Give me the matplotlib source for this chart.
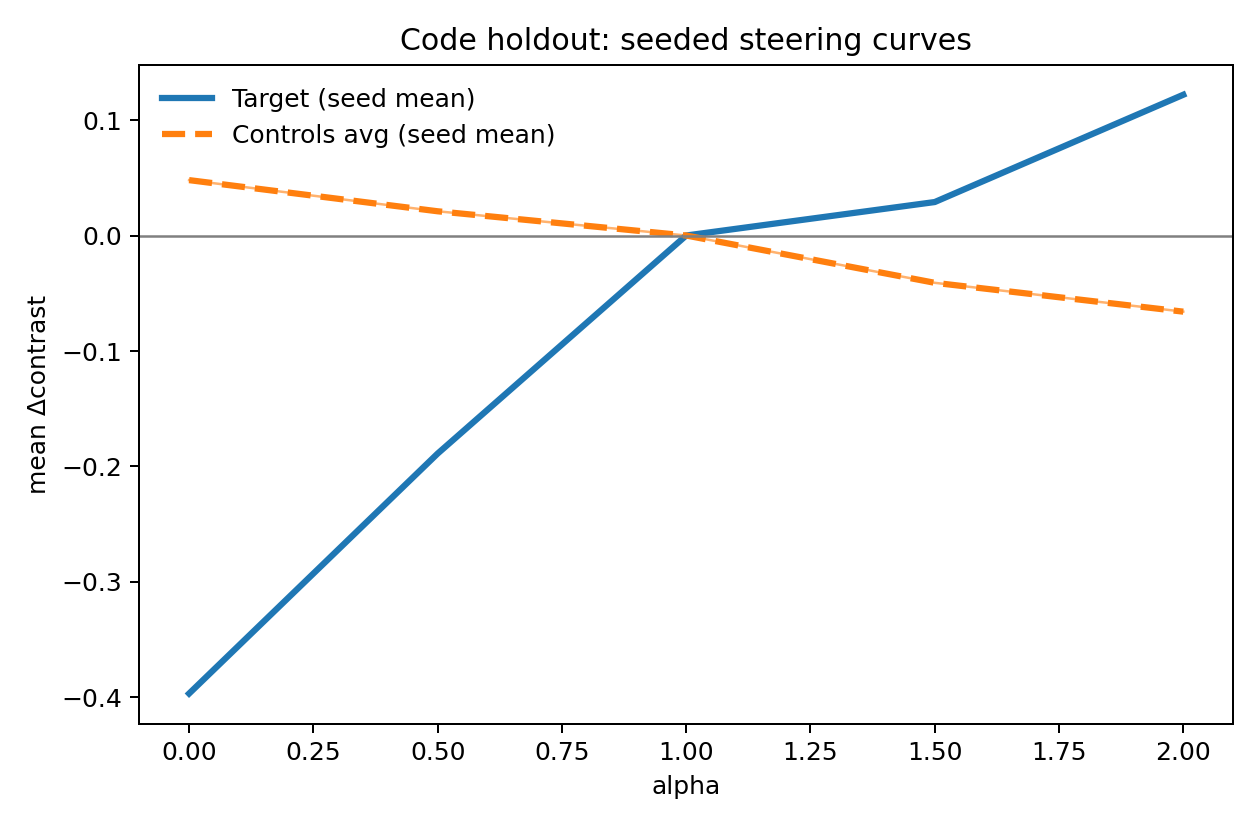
import numpy as np
import matplotlib
matplotlib.use("Agg")
import matplotlib.pyplot as plt

alphas = [0.0, 0.5, 1.0, 1.5, 2.0]
target_mean = [-0.397, -0.189, 0.0, 0.029, 0.122]
controls_mean = [0.048, 0.021, 0.0, -0.041, -0.066]

fig, ax = plt.subplots(figsize=(7, 4.59), dpi=180)

# faint per-seed trace underneath
ax.plot(alphas, target_mean, color="#1f77b4", linewidth=1, alpha=0.35)
ax.plot(alphas, controls_mean, color="#ff7f0e", linewidth=1, alpha=0.6)

ax.plot(alphas, target_mean, color="#1f77b4", linewidth=2.5, label="Target (seed mean)")
ax.plot(alphas, controls_mean, color="#ff7f0e", linewidth=2.5, linestyle="--",
        label="Controls avg (seed mean)")

ax.axhline(0, color="gray", linewidth=1)
ax.set_xlabel("alpha")
ax.set_ylabel("mean \u0394contrast")
ax.set_title("Code holdout: seeded steering curves")
ax.legend(loc="upper left", frameon=False)

fig.tight_layout()
fig.savefig("out.png", dpi=180)
